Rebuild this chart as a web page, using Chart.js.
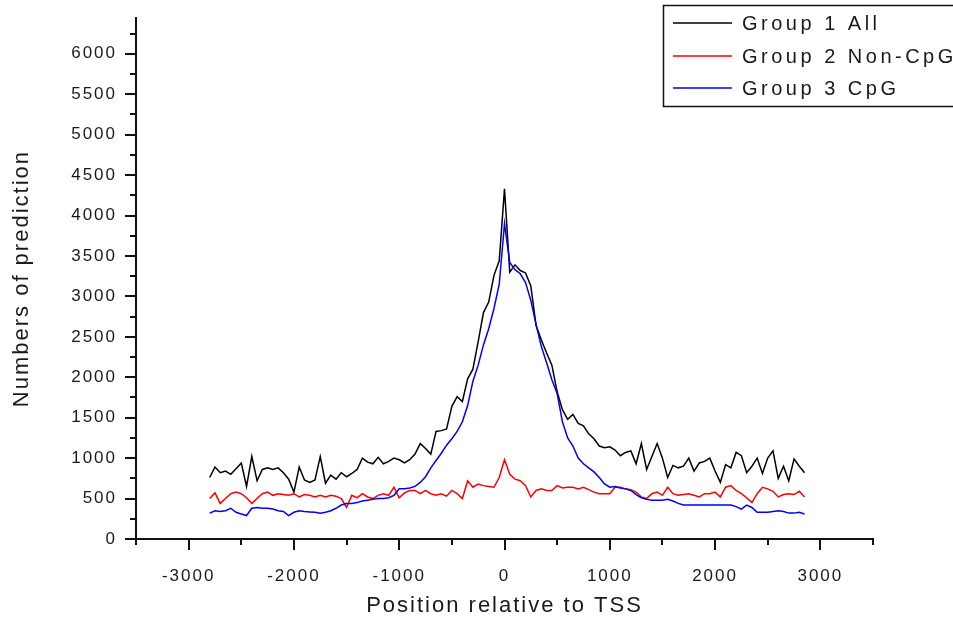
<!DOCTYPE html>
<html>
<head>
<meta charset="utf-8">
<title>Numbers of prediction vs position relative to TSS</title>
<script src="https://cdn.jsdelivr.net/npm/chart.js@4.4.1/dist/chart.umd.min.js"></script>
<style>
body { margin: 0; background: #fff; }
#wrap { width: 953px; height: 620px; position: relative; }
</style>
</head>
<body>
<div id="wrap"><canvas id="mycanvas"></canvas></div>
<script>
// bin positions (bp relative to TSS)
var positions = [
	-2800,-2750,-2700,-2650,-2600,-2550,-2500,-2450,-2400,-2350,
	-2300,-2250,-2200,-2150,-2100,-2050,-2000,-1950,-1900,-1850,
	-1800,-1750,-1700,-1650,-1600,-1550,-1500,-1450,-1400,-1350,
	-1300,-1250,-1200,-1150,-1100,-1050,-1000,-950,-900,-850,
	-800,-750,-700,-650,-600,-550,-500,-450,-400,-350,
	-300,-250,-200,-150,-100,-50,0,50,100,150,
	200,250,300,350,400,450,500,550,600,650,
	700,750,800,850,900,950,1000,1050,1100,1150,
	1200,1250,1300,1350,1400,1450,1500,1550,1600,1650,
	1700,1750,1800,1850,1900,1950,2000,2050,2100,2150,
	2200,2250,2300,2350,2400,2450,2500,2550,2600,2650,
	2700,2750,2800,2850
];

var group1All = [
	760,890,820,840,800,870,940,650,1020,720,
	860,880,860,880,820,740,580,890,730,700,
	730,1020,690,790,740,820,770,810,860,1000,
	950,930,1010,930,960,1000,980,940,980,1050,
	1180,1120,1050,1330,1340,1360,1640,1760,1700,1980,
	2100,2440,2800,2930,3260,3440,4330,3300,3390,3320,
	3290,3130,2640,2460,2300,2150,1820,1600,1480,1540,
	1430,1400,1300,1240,1150,1130,1140,1100,1030,1070,
	1090,930,1180,860,1020,1180,1000,760,910,880,
	900,1000,840,940,960,1000,840,700,920,880,
	1070,1030,820,900,1000,810,1000,1090,750,900,
	720,990,900,820
];

var group2NonCpG = [
	500,570,440,500,560,580,560,510,440,500,
	560,580,540,560,550,540,560,520,550,540,
	520,540,520,540,530,500,390,540,510,560,
	520,500,540,560,540,640,510,570,600,600,
	560,600,560,540,560,530,600,560,500,720,
	640,680,660,650,640,760,980,800,740,720,
	660,520,600,620,600,600,660,630,640,640,
	620,640,610,580,560,560,560,640,640,620,
	610,580,520,500,560,580,540,640,560,540,
	550,560,540,520,560,560,580,520,640,660,
	600,560,510,450,560,640,620,590,520,550,
	560,550,590,520
];

var group3CpG = [
	320,350,340,350,380,330,310,290,380,390,
	380,380,370,350,340,290,330,350,340,335,
	330,320,330,350,380,420,440,440,450,470,
	480,490,500,500,510,540,620,620,630,650,
	700,770,880,970,1060,1160,1240,1330,1450,1650,
	1950,2150,2400,2600,2850,3150,3900,3420,3330,3280,
	3170,2950,2650,2380,2180,1970,1800,1450,1250,1150,
	1000,930,880,830,760,680,640,650,630,620,
	600,550,510,490,480,480,480,490,470,440,
	420,420,420,420,420,420,420,420,420,420,
	400,370,420,390,330,330,330,340,350,340,
	320,320,330,310
];

var seriesNames = ['Group 1 All', 'Group 2 Non-CpG', 'Group 3 CpG'];
var seriesColors = ['#000000', '#ff0000', '#0000ff'];

// labelled ticks and the small unlabelled ones between them
var xTicks = [-3000, -2000, -1000, 0, 1000, 2000, 3000];
var xMinorTicks = [-3500, -2500, -1500, -500, 500, 1500, 2500, 3500];
var yTicks = [0, 500, 1000, 1500, 2000, 2500, 3000, 3500, 4000, 4500, 5000, 5500, 6000];
var yMinorTicks = [250, 750, 1250, 1750, 2250, 2750, 3250, 3750, 4250, 4750, 5250, 5750, 6250];

var FONT = 'Arial, "Liberation Sans", sans-serif';
var INK = '#1a1a1a';

function toPoints(values) {
	var pts = [];
	for (var i = 0; i < values.length; i++) {
		pts.push({x: positions[i], y: values[i]});
	}
	return pts;
}

function plainNumber(v) { return String(v); }

function fixedTicks(values) {
	return function(scale) {
		scale.ticks = values.map(function(v) { return {value: v}; });
	};
}

// minor ticks + boxed legend in the top right corner
var extras = {
	id: 'extras',
	beforeDraw: function(chart) {
		chart.ctx.letterSpacing = '2px';
	},
	afterDraw: function(chart) {
		var ctx = chart.ctx;
		var xs = chart.scales.x, ys = chart.scales.y;
		var area = chart.chartArea;
		ctx.save();
		ctx.strokeStyle = '#111';
		ctx.lineWidth = 2;
		ctx.beginPath();
		yMinorTicks.forEach(function(v) {
			var py = Math.round(ys.getPixelForValue(v));
			ctx.moveTo(area.left - 6, py);
			ctx.lineTo(area.left, py);
		});
		xMinorTicks.forEach(function(v) {
			var px = Math.round(xs.getPixelForValue(v));
			ctx.moveTo(px, area.bottom);
			ctx.lineTo(px, area.bottom + 6);
		});
		ctx.stroke();

		// legend
		ctx.letterSpacing = '3.5px';
		ctx.lineWidth = 1.5;
		ctx.strokeStyle = '#111';
		ctx.strokeRect(663.5, 5.5, 330, 101);
		ctx.font = '20px ' + FONT;
		ctx.textBaseline = 'middle';
		ctx.textAlign = 'left';
		var rows = [23, 56, 88];
		chart.data.datasets.forEach(function(ds, i) {
			ctx.strokeStyle = ds.borderColor;
			ctx.lineWidth = 1.5;
			ctx.beginPath();
			ctx.moveTo(673, rows[i]);
			ctx.lineTo(732, rows[i]);
			ctx.stroke();
			ctx.fillStyle = INK;
			ctx.fillText(ds.label, 742, rows[i] + 1);
		});
		ctx.restore();
	}
};

var chartdata = {
	datasets: [
		{label: seriesNames[0], data: toPoints(group1All), borderColor: seriesColors[0], order: 3},
		{label: seriesNames[1], data: toPoints(group2NonCpG), borderColor: seriesColors[1], order: 2},
		{label: seriesNames[2], data: toPoints(group3CpG), borderColor: seriesColors[2], order: 1}
	]
};

Chart.defaults.font.family = FONT;
Chart.defaults.color = INK;

var ctx = document.getElementById('mycanvas');
var lineGraph = new Chart(ctx, {
	type: 'line',
	data: chartdata,
	plugins: [extras],
	options: {
		responsive: true,
		maintainAspectRatio: false,
		animation: false,
		layout: {padding: {top: 13, right: 80, left: 0, bottom: 0}},
		elements: {
			line: {borderWidth: 1.5, tension: 0, fill: false},
			point: {radius: 0, hoverRadius: 0}
		},
		plugins: {legend: {display: false}, tooltip: {enabled: false}},
		events: [],
		scales: {
			x: {
				type: 'linear',
				min: -3500,
				max: 3500,
				afterBuildTicks: fixedTicks(xTicks),
				border: {color: '#111', width: 2},
				grid: {drawOnChartArea: false, tickLength: 11, color: '#111', lineWidth: 2},
				ticks: {autoSkip: false, maxRotation: 0,
					padding: 16, color: INK, font: {size: 17}, callback: plainNumber},
				title: {display: true, text: 'Position relative to TSS', color: INK,
					font: {size: 22}, padding: {top: 0, bottom: 1}},
				afterFit: function(s) { s.height = 81; }
			},
			y: {
				min: 0,
				max: 6440,
				afterBuildTicks: fixedTicks(yTicks),
				border: {color: '#111', width: 2},
				grid: {drawOnChartArea: false, tickLength: 11, color: '#111', lineWidth: 2},
				ticks: {autoSkip: false, padding: 8, color: INK,
					font: {size: 17}, callback: plainNumber},
				title: {display: true, text: 'Numbers of prediction', color: INK,
					font: {size: 22}, padding: {top: 9, bottom: 0}},
				afterFit: function(s) { s.width = 136; }
			}
		}
	}
});
</script>
</body>
</html>
